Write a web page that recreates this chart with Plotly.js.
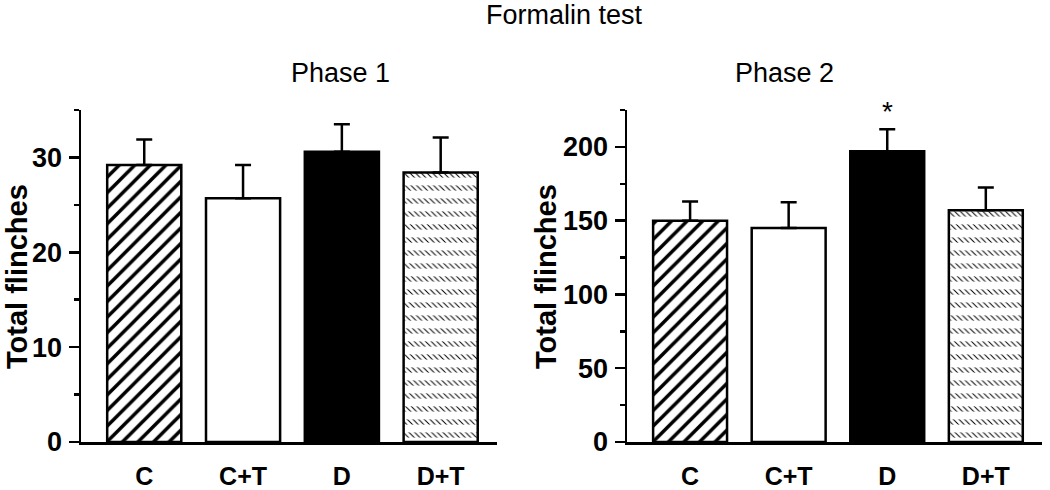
<!DOCTYPE html>
<html><head><meta charset="utf-8">
<script src="https://cdn.plot.ly/plotly-3.0.1.min.js"></script>
<style>body{margin:0;background:#fff}#chart{width:1050px;height:490px}</style>
</head><body><div id="chart"></div>
<script>
const categories = ['C', 'C+T', 'D', 'D+T'];
const phase1Mean = [29.2, 25.7, 30.6, 28.4];
const phase1Sem  = [2.7, 3.5, 2.9, 3.7];
const phase2Mean = [150, 145, 197, 157];
const phase2Sem  = [13, 17.5, 15, 15.5];
const sigLabel = '*';

const FONT = 'Liberation Sans, Arial, sans-serif';
const fills = ['rgba(0,0,0,0)', 'white', 'black', 'rgba(0,0,0,0)'];

function panel(mean, sem, xa, ya) {
  const iC = 0, iDT = categories.length - 1;
  const base = { type: 'bar', xaxis: xa, yaxis: ya, width: 0.75, hoverinfo: 'skip', showlegend: false };
  return [
    Object.assign({}, base, { x: [categories[iC]], y: [mean[iC]],
      marker: { color: 'white', line: { width: 0 },
        pattern: { shape: '/', size: 11, solidity: 0.32, fgcolor: 'black', bgcolor: 'white', fillmode: 'replace' } } }),
    Object.assign({}, base, { x: [categories[iDT]], y: [mean[iDT]],
      marker: { color: 'white', line: { width: 0 },
        pattern: { shape: '\\', size: 4, solidity: 0.25, fgcolor: 'black', bgcolor: 'white', fillmode: 'replace' } } }),
    Object.assign({}, base, { x: [categories[iDT]], y: [mean[iDT]],
      marker: { color: 'white', line: { width: 0 },
        pattern: { shape: '-', size: 13, solidity: 0.6, fgcolor: 'white', bgcolor: 'rgba(255,255,255,0)', fillmode: 'replace' } } }),
    Object.assign({}, base, { x: categories, y: mean, hoverinfo: 'x+y',
      marker: { color: fills, line: { color: 'black', width: 2.5 } },
      error_y: { type: 'data', symmetric: false, array: sem, arrayminus: sem.map(() => 0),
        color: 'black', thickness: 2.5, width: 8 } })
  ];
}

const data = [...panel(phase1Mean, phase1Sem, 'x', 'y'), ...panel(phase2Mean, phase2Sem, 'x2', 'y2')];

const xCommon = { type: 'category', categoryorder: 'array', categoryarray: categories,
  range: [-0.64, 3.57], showline: true, linecolor: 'black', linewidth: 2.5,
  ticks: '', tickfont: { family: FONT, size: 25, color: 'black', weight: 'bold' }, ticklabelstandoff: 10,
  showgrid: false, zeroline: false, fixedrange: true };
const yCommon = { showline: true, linecolor: 'black', linewidth: 2.5, ticks: 'outside', ticklen: 10,
  tickwidth: 2.5, tickcolor: 'black', showgrid: false, zeroline: false,
  tickfont: { family: FONT, size: 27, color: 'black', weight: 'bold' }, ticklabelstandoff: 1 };

const PH = 332;
const ty = (px) => 1 + (110 - px) / PH;

const layout = {
  width: 1050, height: 490, paper_bgcolor: 'white', plot_bgcolor: 'white',
  margin: { l: 0, r: 0, t: 110, b: 48 }, barmode: 'overlay', showlegend: false,
  font: { family: FONT, color: 'black' },
  xaxis: Object.assign({}, xCommon, { domain: [81/1050, 497/1050], anchor: 'y' }),
  xaxis2: Object.assign({}, xCommon, { domain: [627/1050, 1042/1050], anchor: 'y2' }),
  yaxis: Object.assign({}, yCommon, { range: [0, 35], dtick: 10, tick0: 0, anchor: 'x',
    minor: { dtick: 5, ticks: 'outside', ticklen: 5, tickwidth: 2.5, tickcolor: 'black' } }),
  yaxis2: Object.assign({}, yCommon, { range: [0, 225], dtick: 50, tick0: 0, anchor: 'x2',
    minor: { dtick: 25, ticks: 'outside', ticklen: 5, tickwidth: 2.5, tickcolor: 'black' } }),
  annotations: [
    { text: 'Formalin test', xref: 'paper', yref: 'paper', x: 564/1050, y: ty(15), showarrow: false,
      font: { size: 27, family: FONT }, yanchor: 'middle' },
    { text: 'Phase 1', xref: 'paper', yref: 'paper', x: 289/1050, y: ty(73), showarrow: false,
      font: { size: 27, family: FONT }, yanchor: 'middle' },
    { text: 'Phase 2', xref: 'paper', yref: 'paper', x: 836/1050, y: ty(73), showarrow: false,
      font: { size: 27, family: FONT }, yanchor: 'middle' },
    { text: 'Total flinches', xref: 'paper', yref: 'paper', x: 17/1050, y: 1 - (277 - 110) / PH, textangle: -90, showarrow: false,
      font: { size: 29, family: FONT, weight: 'bold' }, xanchor: 'center', yanchor: 'middle' },
    { text: 'Total flinches', xref: 'paper', yref: 'paper', x: 546/1050, y: 1 - (277 - 110) / PH, textangle: -90, showarrow: false,
      font: { size: 29, family: FONT, weight: 'bold' }, xanchor: 'center', yanchor: 'middle' },
    { text: sigLabel, xref: 'x2', yref: 'y2', x: categories[2], y: phase2Mean[2] + phase2Sem[2], yanchor: 'bottom',
      yshift: 0, showarrow: false, font: { size: 28, family: FONT } }
  ]
};

Plotly.newPlot('chart', data, layout, { staticPlot: true });
</script></body></html>
